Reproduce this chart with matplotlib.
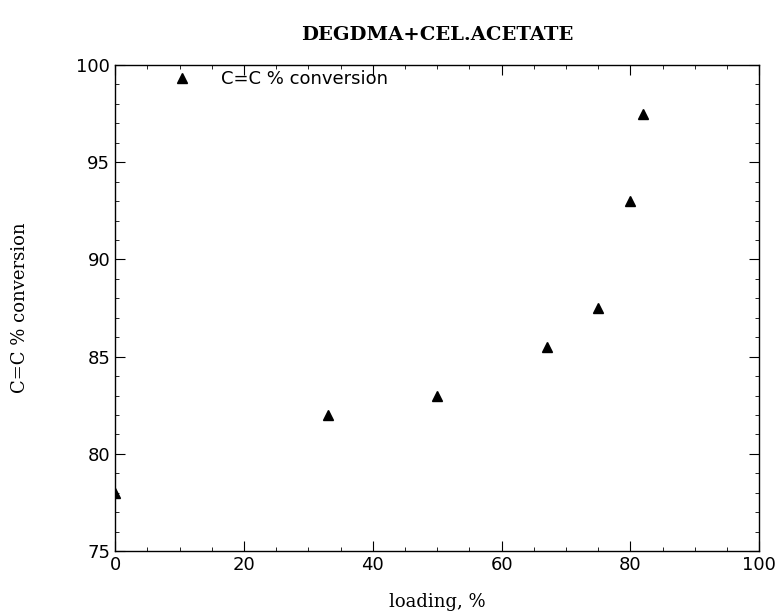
import matplotlib
matplotlib.use("Agg")
import matplotlib.pyplot as plt
from matplotlib.ticker import MultipleLocator

loading = [0, 33, 50, 67, 75, 80, 82]
conversion = [78.0, 82.0, 83.0, 85.5, 87.5, 93.0, 97.5]

fig = plt.figure(figsize=(7.78, 6.13), dpi=100)
ax = fig.add_axes([0.148, 0.101, 0.828, 0.793])
ax.plot(loading, conversion, linestyle='none', marker='^', color='black',
        markersize=7, label='C=C % conversion')
ax.set_xlim(0, 100)
ax.set_ylim(75, 100)
ax.xaxis.set_major_locator(MultipleLocator(20))
ax.xaxis.set_minor_locator(MultipleLocator(5))
ax.yaxis.set_major_locator(MultipleLocator(5))
ax.yaxis.set_minor_locator(MultipleLocator(1))
ax.tick_params(which='both', direction='in', top=True, right=True, labelsize=13)
ax.tick_params(which='major', length=7)
ax.tick_params(which='minor', length=3)
for s in ax.spines.values():
    s.set_linewidth(1.0)
ax.set_xlabel('loading, %', family='DejaVu Serif', fontsize=13, labelpad=14)
ax.set_ylabel('C=C % conversion', family='DejaVu Serif', fontsize=13, labelpad=34)
ax.set_title('DEGDMA+CEL.ACETATE', family='DejaVu Serif', fontweight='bold',
             fontsize=14, pad=18)
ax.legend(loc='upper left', frameon=False, fontsize=13, handletextpad=1.2,
          bbox_to_anchor=(0.05, 1.023))
fig.savefig('out.png', dpi=100)
